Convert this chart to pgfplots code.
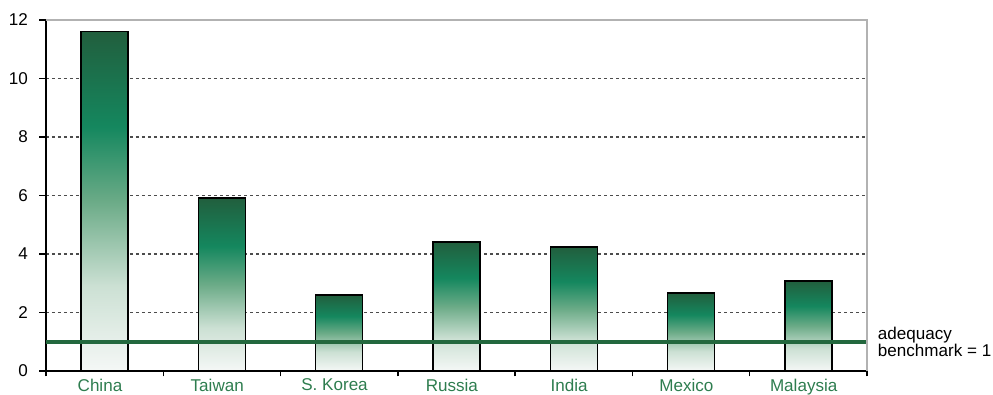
\documentclass[border=0pt]{standalone}
\usepackage{pgfplots}
\pgfplotsset{compat=1.18}
\usepackage{fontspec}
\setmainfont{Liberation Sans}
\definecolor{labgreen}{HTML}{2E7D4F}
\definecolor{benchgreen}{HTML}{23683E}
\pgfdeclareverticalshading{barshade}{100bp}{%
 rgb(0bp)=(0.96,0.97,0.965);
 rgb(25bp)=(0.96,0.97,0.965);
 rgb(37.5bp)=(0.80,0.88,0.83);
 rgb(50bp)=(0.42,0.67,0.53);
 rgb(61bp)=(0.08,0.53,0.37);
 rgb(75bp)=(0.13,0.37,0.24);
 rgb(100bp)=(0.13,0.37,0.24)}
\pgfplotsset{mybar/.style={ybar, bar width=0.4, bar shift=0pt, draw=black, line width=1.1pt, shading=barshade}}
\begin{document}
\begin{tikzpicture}
\useasboundingbox (-34.5pt,-18pt) rectangle (710.25pt,278.25pt);
\begin{axis}[
 at={(0,0)}, anchor=south west,
 scale only axis, width=615.75pt, height=263.25pt,
 xmin=-0.5, xmax=6.5, ymin=0, ymax=12,
 axis x line*=bottom, axis y line*=left,
 axis line style={black, line width=1.1pt},
 ytick={0,2,...,12},
 xtick={0,...,6},
 xticklabels={China,Taiwan,S. Korea,Russia,India,Mexico,Malaysia},
 minor xtick={-0.5,0.5,...,6.5},
 major x tick style={draw=none},
 tick align=outside,
 major tick length=5pt, minor tick length=4pt,
 tick style={black, line width=1pt},
 ymajorgrids,
 grid style={black!70, line width=1pt, dash pattern=on 2.5pt off 2pt},
 /pgf/number format/assume math mode=true,
 tick label style={font=\fontsize{12.8}{14}\selectfont},
 x tick label style={text=labgreen, yshift=2.5pt, xshift=-3.5pt},
 y tick label style={xshift=-5pt},
 clip=false,
]
\addplot[mybar] coordinates {(0,11.6)};
\addplot[mybar] coordinates {(1,5.92)};
\addplot[mybar] coordinates {(2,2.6)};
\addplot[mybar] coordinates {(3,4.41)};
\addplot[mybar] coordinates {(4,4.24)};
\addplot[mybar] coordinates {(5,2.67)};
\addplot[mybar] coordinates {(6,3.08)};
\addplot[benchgreen, line width=3.3pt, forget plot] coordinates {(-0.5,1) (6.5,1)};
\draw[black!30, line width=0.8pt] (rel axis cs:0,1) -- (rel axis cs:1,1) -- (rel axis cs:1,0);
\node[anchor=west, align=left, inner sep=0pt, font=\fontsize{12.8}{13}\selectfont, xshift=8pt] at (axis cs:6.5,1) {adequacy\\benchmark = 1};
\end{axis}
\end{tikzpicture}
\end{document}
